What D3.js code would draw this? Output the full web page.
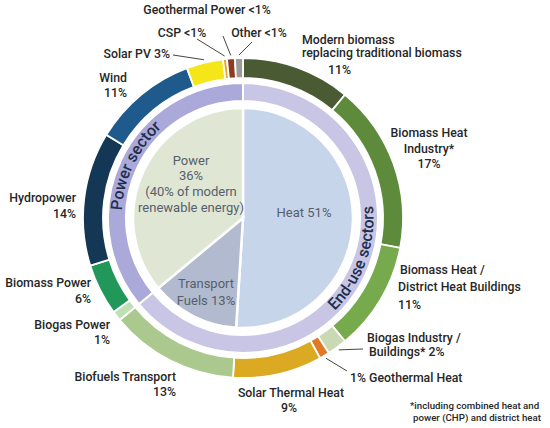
<!DOCTYPE html>
<html><head><meta charset="utf-8">
<script src="https://cdn.jsdelivr.net/npm/d3@7"></script>
<style>
html,body{margin:0;padding:0;background:#fff;}
svg{display:block;font-family:Roboto, "Open Sans", sans-serif;}
</style></head>
<body>
<svg id="chart" width="550" height="428"></svg>
<script>
// ---------- DATA ----------
const innerCats = ["Heat", "Transport Fuels", "Power"];
const innerVals = [51, 13, 36];

const sectorCats = ["End-use sectors", "Power sector"];
const sectorVals = [64, 36];

const outerCats = ["Modern biomass replacing traditional biomass", "Biomass Heat Industry*",
  "Biomass Heat / District Heat Buildings", "Biogas Industry / Buildings*", "Geothermal Heat",
  "Solar Thermal Heat", "Biofuels Transport", "Biogas Power", "Biomass Power", "Hydropower",
  "Wind", "Solar PV", "CSP", "Geothermal Power", "Other"];
const outerVals = [11, 17, 11, 2, 1, 9, 13, 1, 5.2, 13.5, 10.6, 3.7, 0.4, 0.8, 0.8];
const outerPctLabels = ["11%", "17%", "11%", "2%", "1%", "9%", "13%", "1%", "6%", "14%", "11%", "3%", "<1%", "<1%", "<1%"];

const innerText = [
  ["Heat 51%"],
  ["Transport", "Fuels 13%"],
  ["Power", "36%", "(40% of modern", "renewable energy)"]
];
const footnote = ["*including combined heat and", "power (CHP) and district heat"];

// ---------- STYLE / LAYOUT ----------
const W = 550, H = 428, cx = 243, cy = 218;
const R = { pie: 110, midIn: 117, midOut: 135, outIn: 140, outOut: 160 };
const innerColors = ["#c7d5ea", "#b2bacf", "#dfe6d4"];
const outerColors = ["#4a5a32", "#5e8a3b", "#77a94d", "#c9d9b3", "#e07a26", "url(#solarGrad)",
  "#abc98e", "#bfe0b5", "#21985a", "#143755", "#1f5a8d", "#f4e619", "#e8a52a", "#8c3b22", "#9b9b9b"];
const textColor = "#262626";

const labelLayout = {
  "Modern biomass replacing traditional biomass": {lines: ["Modern biomass", "replacing traditional biomass", "%"], x: [302, 302, 328], y: [44, 57, 74], anchor: "start"},
  "Biomass Heat Industry*": {lines: ["Biomass Heat", "Industry*", "%"], x: [429, 429, 429], y: [136.5, 152.5, 168], anchor: "middle"},
  "Biomass Heat / District Heat Buildings": {lines: ["Biomass Heat /", "District Heat Buildings", "%"], x: [400, 398, 398], y: [273.5, 290.5, 308.5], anchor: "start"},
  "Biogas Industry / Buildings*": {lines: ["Biogas Industry /", "Buildings* %"], x: [367, 369], y: [341.5, 355.5], anchor: "start", leader: [363, 349]},
  "Geothermal Heat": {lines: ["% Geothermal Heat"], x: [350], y: [381.5], anchor: "start", leader: [347, 371]},
  "Solar Thermal Heat": {lines: ["Solar Thermal Heat", "%"], x: [291, 289], y: [396.5, 411.5], anchor: "middle"},
  "Biofuels Transport": {lines: ["Biofuels Transport", "%"], x: [176, 176], y: [380.5, 395.5], anchor: "end"},
  "Biogas Power": {lines: ["Biogas Power", "%"], x: [110, 110], y: [328.5, 343.5], anchor: "end"},
  "Biomass Power": {lines: ["Biomass Power", "%"], x: [91, 91], y: [286.5, 302.5], anchor: "end"},
  "Hydropower": {lines: ["Hydropower", "%"], x: [76, 76], y: [201.5, 217.5], anchor: "end"},
  "Wind": {lines: ["Wind", "%"], x: [127, 127], y: [81.5, 96.5], anchor: "end"},
  "Solar PV": {lines: ["Solar PV %"], x: [170], y: [57.5], anchor: "end", leader: [173, 55]},
  "CSP": {lines: ["CSP %"], x: [182], y: [36.5], anchor: "middle", leader: [197, 39]},
  "Geothermal Power": {lines: ["Geothermal Power %"], x: [207], y: [13.5], anchor: "middle", leader: [223, 36]},
  "Other": {lines: ["Other %"], x: [259], y: [36.5], anchor: "middle", leader: [252, 42]}
};

// ---------- DRAW ----------
const svg = d3.select("#chart");
const defs = svg.append("defs");

const sg = defs.append("linearGradient").attr("id", "solarGrad")
  .attr("gradientUnits", "userSpaceOnUse").attr("x1", 240).attr("y1", 380).attr("x2", 340).attr("y2", 340);
sg.append("stop").attr("offset", "0%").attr("stop-color", "#dcaa22");
sg.append("stop").attr("offset", "100%").attr("stop-color", "#f29a2a");

const pg = defs.append("linearGradient").attr("id", "powerGrad")
  .attr("gradientUnits", "userSpaceOnUse").attr("x1", 0).attr("y1", 300).attr("x2", 0).attr("y2", 85);
pg.append("stop").attr("offset", "0%").attr("stop-color", "#8c8ac6");
pg.append("stop").attr("offset", "100%").attr("stop-color", "#aba8da");

const sectorColors = ["#c9c5e5", "url(#powerGrad)"];

const g = svg.append("g").attr("transform", `translate(${cx},${cy})`);
const pie = d3.pie().sort(null).value(d => d);

// inner pie
const innerArcs = pie(innerVals);
const arcInner = d3.arc().innerRadius(0).outerRadius(R.pie);
g.selectAll("path.inner").data(innerArcs).join("path")
  .attr("class", "inner").attr("d", arcInner)
  .attr("fill", (d, i) => innerColors[i]).attr("stroke", "#fff").attr("stroke-width", 2.5);

// sector ring
const sectorArcs = pie(sectorVals);
const arcMid = d3.arc().innerRadius(R.midIn).outerRadius(R.midOut);
g.selectAll("path.mid").data(sectorArcs).join("path")
  .attr("class", "mid").attr("d", arcMid)
  .attr("fill", (d, i) => sectorColors[i]).attr("stroke", "#fff").attr("stroke-width", 2);

// outer ring
const outerArcs = pie(outerVals);
const arcOut = d3.arc().innerRadius(R.outIn).outerRadius(R.outOut);
g.selectAll("path.outer").data(outerArcs).join("path")
  .attr("class", "outer").attr("d", arcOut)
  .attr("fill", (d, i) => outerColors[i]).attr("stroke", "#fff").attr("stroke-width", 1.8);

// curved sector labels, glyph by glyph
function pt(a, r) { return [cx + r * Math.sin(a), cy - r * Math.cos(a)]; }
const deg = Math.PI / 180;
function curvedText(str, midAngle, r, clockwise) {
  const fs = 16, fw = 500;
  const tmp = svg.append("text").attr("font-size", fs).attr("font-weight", fw);
  const lens = [];
  for (let i = 0; i <= str.length; i++) {
    tmp.text(str.slice(0, i).replace(/ /g, "\u00a0"));
    lens.push(i === 0 ? 0 : tmp.node().getComputedTextLength());
  }
  tmp.remove();
  const L = lens[str.length];
  for (let i = 0; i < str.length; i++) {
    if (str[i] === " ") continue;
    const c = (lens[i] + lens[i + 1]) / 2;
    const off = (c - L / 2) / r;
    const a = clockwise ? midAngle + off : midAngle - off;
    const p = pt(a, r);
    const rot = clockwise ? a / deg : a / deg + 180;
    svg.append("text").attr("font-size", fs).attr("font-weight", fw).attr("fill", "#1d2f4a")
      .attr("text-anchor", "middle")
      .attr("transform", `translate(${p[0]},${p[1]}) rotate(${rot})`)
      .text(str[i]);
  }
}
const powerMid = (sectorArcs[1].startAngle + sectorArcs[1].endAngle) / 2 + 0.6 * deg;
curvedText(sectorCats[1], powerMid, 121.5, true);
curvedText(sectorCats[0], 110 * deg, 130.5, false);

// inner pie texts
const innerPos = [
  {x: 304, y: [216.5]},
  {x: 206, y: [287.5, 304.5]},
  {x: 191, y: [164.5, 179.5, 195.5, 211.5]}
];
innerText.forEach((lines, i) => {
  const t = svg.append("text").attr("font-size", 13).attr("fill", "#56606c").attr("text-anchor", "middle");
  lines.forEach((ln, j) => t.append("tspan").attr("x", innerPos[i].x).attr("y", innerPos[i].y[j]).text(ln));
});

// outer labels + leaders
outerCats.forEach((cat, i) => {
  const L = labelLayout[cat];
  const t = svg.append("text").attr("font-size", 12.3).attr("font-weight", 500).attr("fill", textColor).attr("text-anchor", L.anchor);
  L.lines.forEach((ln, j) => {
    t.append("tspan").attr("x", L.x[j]).attr("y", L.y[j]).text(ln.replace("%", outerPctLabels[i]));
  });
  if (L.leader) {
    const a = (outerArcs[i].startAngle + outerArcs[i].endAngle) / 2;
    const p = pt(a, R.outOut + 3);
    svg.append("line").attr("x1", L.leader[0]).attr("y1", L.leader[1])
      .attr("x2", p[0]).attr("y2", p[1]).attr("stroke", "#444").attr("stroke-width", 1);
  }
});

// footnote
const fn = svg.append("text").attr("font-size", 9.7).attr("font-weight", 500).attr("fill", textColor);
footnote.forEach((ln, j) => fn.append("tspan").attr("x", j ? 413 : 410).attr("y", 409 + j * 11.5).text(ln));
</script>
</body></html>
